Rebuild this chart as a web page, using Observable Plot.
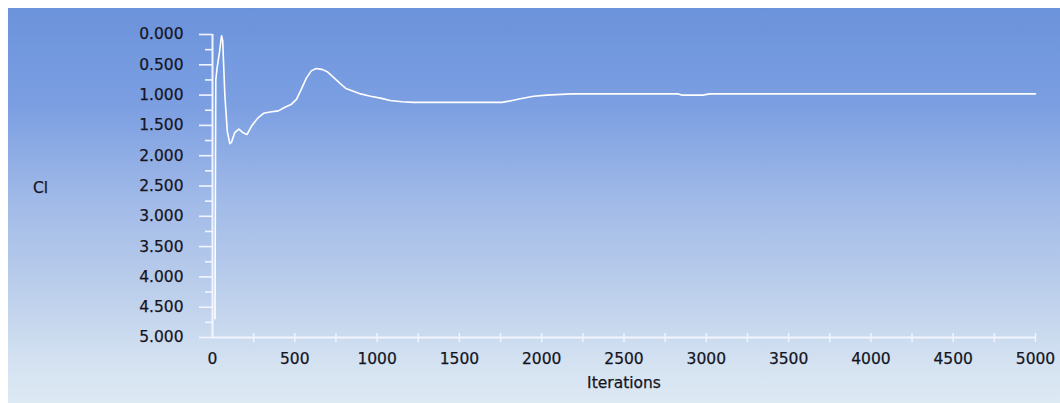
<!DOCTYPE html>
<html>
<head>
<meta charset="utf-8">
<script src="https://cdn.jsdelivr.net/npm/d3@7"></script>
<script src="https://cdn.jsdelivr.net/npm/@observablehq/plot@0.6"></script>
<style>
  html, body { margin: 0; padding: 0; background: #ffffff; }
  #wrap { position: relative; width: 1060px; height: 403px; overflow: hidden; }
  #bg { position: absolute; left: 8px; top: 8px; right: 0; bottom: 0;
        background: linear-gradient(to bottom, #6b93db 0%, #7c9fe2 25%, #a2bbe8 50%, #bccfeb 72%, #d4e2f1 90%, #dde9f3 100%); }
  #chart { position: absolute; left: 0; top: 0; }
  #chart svg text { font-family: "DejaVu Sans", sans-serif; }
  #chart svg g[aria-label="y-axis tick label"] text,
  #chart svg g[aria-label="x-axis tick label"] text,
  #chart svg g[aria-label="text"] text { stroke: #15151f; stroke-width: 0.25px; }
</style>
</head>
<body>
<div id="wrap"><div id="bg"></div><div id="chart"></div></div>
<script>
// Iteration numbers and Cl values
const iterations = [15, 20, 28, 42, 55, 62, 75, 90, 105, 115, 135, 160, 185, 210, 240, 275, 310, 350, 400, 440, 480, 510, 540, 570, 600, 630, 670, 700, 740, 780, 810, 860, 900, 960, 1020, 1080, 1150, 1220, 1500, 1760, 1800, 1870, 1950, 2030, 2180, 2830, 2850, 2980, 3020, 5000];
const clValues   = [4.69, 0.75, 0.55, 0.3, 0.02, 0.1, 1.0, 1.6, 1.8, 1.78, 1.62, 1.56, 1.62, 1.65, 1.5, 1.38, 1.3, 1.28, 1.26, 1.2, 1.15, 1.07, 0.9, 0.72, 0.6, 0.56, 0.58, 0.62, 0.72, 0.82, 0.89, 0.94, 0.98, 1.02, 1.05, 1.09, 1.11, 1.12, 1.12, 1.12, 1.1, 1.06, 1.02, 1.0, 0.98, 0.98, 1.0, 1.0, 0.98, 0.98];

const yMajorTicks = [0, 0.5, 1, 1.5, 2, 2.5, 3, 3.5, 4, 4.5, 5];
const yMinorTicks = [0.25, 0.75, 1.25, 1.75, 2.25, 2.75, 3.25, 3.75, 4.25, 4.75];
const xLabelTicks = [0, 500, 1000, 1500, 2000, 2500, 3000, 3500, 4000, 4500, 5000];
const xMarkTicks  = [250, 500, 750, 1000, 1250, 1500, 1750, 2000, 2250, 2500, 2750, 3000, 3250, 3500, 3750, 4000, 4250, 4500, 4750, 5000];
const yTitle = "Cl";
const xTitle = "Iterations";

const data = iterations.map((it, i) => ({it, cl: clValues[i]}));
const textColor = "#15151f";
const axisColor = "#f2f5ff";
const fs = 15.5;

const chart = Plot.plot({
  width: 1060,
  height: 403,
  marginLeft: 212,
  marginRight: 25,
  marginTop: 34,
  marginBottom: 66,
  style: {background: "transparent", fontSize: fs + "px", fontFamily: "DejaVu Sans, sans-serif"},
  x: {domain: [0, 5000], axis: null},
  y: {domain: [0, 5], reverse: true, axis: null},
  marks: [
    // y axis ticks
    Plot.axisY({ticks: yMajorTicks, tickSize: 13, tickFormat: () => "", stroke: axisColor, strokeWidth: 1.6, label: null}),
    Plot.axisY({ticks: yMinorTicks, tickSize: 7, tickFormat: () => "", stroke: axisColor, strokeWidth: 1.6, label: null}),
    // y tick labels
    Plot.axisY({ticks: yMajorTicks, tickSize: 0, tickPadding: 29, tickFormat: d3.format(".3f"), fill: textColor, fontSize: fs, label: null}),
    // x axis ticks and labels
    Plot.axisX({ticks: xMarkTicks, tickSize: 9, dy: -4, tickFormat: () => "", stroke: axisColor, strokeWidth: 1.4, label: null}),
    Plot.axisX({ticks: xLabelTicks, tickSize: 0, tickPadding: 15, tickFormat: d3.format("d"), fill: textColor, fontSize: fs, label: null}),
    // axis lines
    Plot.ruleX([0], {y1: 0, y2: 5, stroke: axisColor, strokeWidth: 2}),
    Plot.ruleY([5], {x1: 0, x2: 5000, stroke: axisColor, strokeWidth: 2}),
    // data line
    Plot.line(data, {x: "it", y: "cl", stroke: "#ffffff", strokeWidth: 1.6, strokeLinejoin: "round"}),
    // axis titles
    Plot.text([yTitle], {frameAnchor: "left", dx: -172, dy: 2, textAnchor: "middle", fill: textColor, fontSize: fs}),
    Plot.text([xTitle], {frameAnchor: "bottom", dy: 46, textAnchor: "middle", lineAnchor: "middle", fill: textColor, fontSize: fs})
  ]
});
document.getElementById("chart").appendChild(chart);
</script>
</body>
</html>
